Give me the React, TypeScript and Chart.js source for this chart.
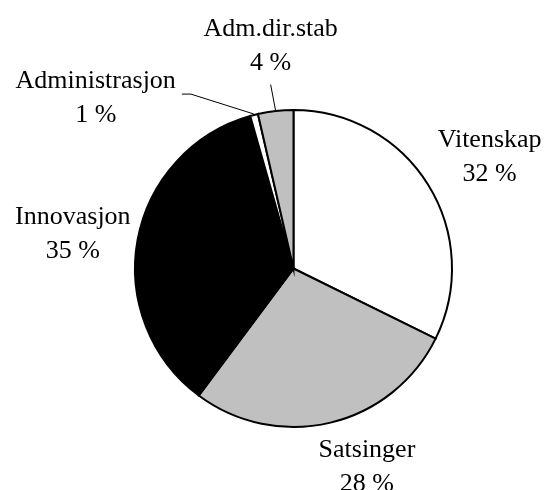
import React, { useEffect, useRef } from 'react';
import { Chart, registerables } from 'chart.js';

Chart.register(...registerables);

const categories = ['Vitenskap', 'Satsinger', 'Innovasjon', 'Administrasjon', 'Adm.dir.stab'];
const shares = [32.3, 27.9, 35.4, 0.8, 3.6];
const sliceColors = ['#FFFFFF', '#C0C0C0', '#000000', '#FFFFFF', '#C0C0C0'];

// label layout tweaks (pixels) relative to default position along slice mid-angle
const labelNudge: [number, number][] = [
  [9, 12],
  [22, -9],
  [-4, 12],
  [-143, 50],
  [2, 3],
];
const leaderLines = [false, false, false, true, true];

const FONT = '26px "Liberation Serif", "Times New Roman", serif';

const labelPlugin = {
  id: 'pieLabels',
  afterDatasetsDraw(chart: any) {
    const ctx = chart.ctx as CanvasRenderingContext2D;
    const meta = chart.getDatasetMeta(0);
    const data = chart.data.datasets[0].data as number[];
    const total = data.reduce((a, b) => a + b, 0);
    ctx.save();
    ctx.font = FONT;
    ctx.fillStyle = '#000';
    ctx.textAlign = 'center';
    ctx.textBaseline = 'alphabetic';
    meta.data.forEach((arc: any, i: number) => {
      const p = arc.getProps(['x', 'y', 'startAngle', 'endAngle', 'outerRadius'], true);
      const mid = (p.startAngle + p.endAngle) / 2;
      const d = p.outerRadius * 1.39;
      const ax = p.x + Math.cos(mid) * d + labelNudge[i][0];
      const ay = p.y + Math.sin(mid) * d + labelNudge[i][1];
      const name = chart.data.labels[i] as string;
      const pct = Math.round((data[i] / total) * 100) + ' %';
      ctx.fillText(name, ax, ay - 17);
      ctx.fillText(pct, ax, ay + 17);
      if (leaderLines[i]) {
        const ex = p.x + Math.cos(mid) * (p.outerRadius + 1);
        const ey = p.y + Math.sin(mid) * (p.outerRadius + 1);
        ctx.beginPath();
        ctx.lineWidth = 1;
        ctx.strokeStyle = '#000';
        if (i === 3) {
          const w = ctx.measureText(name).width;
          const sx = ax + w / 2 + 6;
          const sy = ay - 11;
          ctx.moveTo(sx, sy);
          ctx.lineTo(sx + 9, sy);
          ctx.lineTo(ex, ey);
        } else {
          ctx.moveTo(ax, ay + 32);
          ctx.lineTo(ex, ey);
        }
        ctx.stroke();
      }
    });
    ctx.restore();
  },
};

export default function App() {
  const ref = useRef<HTMLCanvasElement | null>(null);
  useEffect(() => {
    if (!ref.current) return;
    const chart = new Chart(ref.current, {
      type: 'pie',
      data: {
        labels: categories,
        datasets: [
          {
            data: shares,
            backgroundColor: sliceColors,
            borderColor: '#000000',
            borderWidth: 2,
            borderJoinStyle: 'miter',
          },
        ],
      },
      options: {
        responsive: false,
        animation: false,
        layout: { padding: { top: 109, bottom: 62, left: 134, right: 92 } },
        plugins: {
          legend: { display: false },
          tooltip: { enabled: false },
        },
      },
      plugins: [labelPlugin],
    });
    return () => chart.destroy();
  }, []);
  return (
    <div style={{ position: 'fixed', left: 0, top: 0, width: 545, height: 490, background: '#fff' }}>
      <canvas ref={ref} width={545} height={490} style={{ display: 'block' }} />
    </div>
  );
}
